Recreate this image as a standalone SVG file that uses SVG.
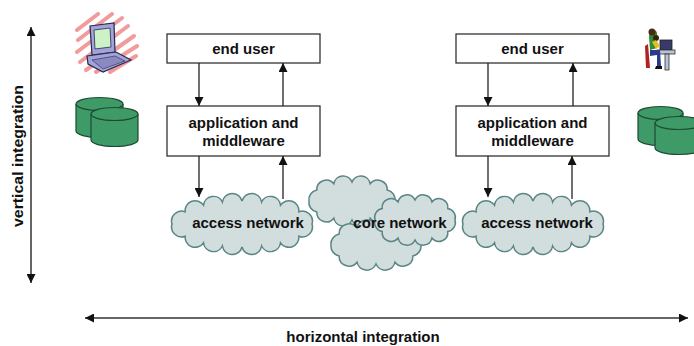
<svg xmlns="http://www.w3.org/2000/svg" width="694" height="346" viewBox="0 0 694 346">
  <style>
    .box { fill: #ffffff; stroke: #333333; stroke-width: 1.3; }
    .lbl { font-family: "Liberation Sans", Arial, sans-serif; font-weight: bold; font-size: 15px; fill: #111111; text-anchor: middle; }
    .cloud { fill: #d2dddd; stroke: #5a8585; stroke-width: 1.5; }
    .link { stroke: #222222; stroke-width: 1.3; fill: none; marker-end: url(#tip); }
    .axis { stroke: #333333; stroke-width: 1.5; fill: none; marker-start: url(#tipS); marker-end: url(#tip); }
    .db { fill: #3e9a66; stroke: #1d4a32; stroke-width: 1.2; }
  </style>
  <defs>
    <marker id="tip" viewBox="0 0 10 10" refX="10" refY="5" markerWidth="9" markerHeight="9" markerUnits="userSpaceOnUse" orient="auto">
      <path d="M0,0 L10,5 L0,10 Z" fill="#111111"/>
    </marker>
    <marker id="tipS" viewBox="0 0 10 10" refX="0" refY="5" markerWidth="9" markerHeight="9" markerUnits="userSpaceOnUse" orient="auto">
      <path d="M10,0 L0,5 L10,10 Z" fill="#111111"/>
    </marker>
  </defs>

  <rect width="694" height="346" fill="#ffffff"/>

  <!-- integration axes -->
  <g id="axes">
    <line class="axis" x1="31" y1="27" x2="31" y2="283"/>
    <text class="lbl" style="font-size:14px" transform="translate(23,156) rotate(-90)" textLength="142" lengthAdjust="spacingAndGlyphs">vertical integration</text>
    <line class="axis" x1="85" y1="318" x2="688" y2="318"/>
    <text class="lbl" x="363" y="342">horizontal integration</text>
  </g>

  <!-- networks -->
  <g id="access-left">
    <path class="cloud" d="M312,224 A10,10 0 0 1 298.8,236.2 A10,10 0 0 1 280.5,242.8 A10,10 0 0 1 261.6,246 A10,10 0 0 1 242,247 A10,10 0 0 1 222.4,246 A10,10 0 0 1 203.5,242.8 A10,10 0 0 1 185.2,236.2 A10,10 0 0 1 172,224 A10,10 0 0 1 185.2,211.8 A10,10 0 0 1 203.5,205.2 A10,10 0 0 1 222.4,202 A10,10 0 0 1 242,201 A10,10 0 0 1 261.6,202 A10,10 0 0 1 280.5,205.2 A10,10 0 0 1 298.8,211.8 A10,10 0 0 1 312,224 Z"/>
    <text class="lbl" x="248" y="228">access network</text>
  </g>
  <g id="core">
    <path class="cloud" d="M395,201 A9.5,9.5 0 0 1 387.2,211.9 A9.5,9.5 0 0 1 370.2,218.2 A9.5,9.5 0 0 1 352,220 A9.5,9.5 0 0 1 333.8,218.2 A9.5,9.5 0 0 1 316.8,211.9 A9.5,9.5 0 0 1 309,201 A9.5,9.5 0 0 1 316.8,190.1 A9.5,9.5 0 0 1 333.8,183.8 A9.5,9.5 0 0 1 352,182 A9.5,9.5 0 0 1 370.2,183.8 A9.5,9.5 0 0 1 387.2,190.1 A9.5,9.5 0 0 1 395,201 Z"/>
    <path class="cloud" d="M421,245 A10,10 0 0 1 412.9,255.9 A10,10 0 0 1 395,262.2 A10,10 0 0 1 376,264 A10,10 0 0 1 357,262.2 A10,10 0 0 1 339.1,255.9 A10,10 0 0 1 331,245 A10,10 0 0 1 339.1,234.1 A10,10 0 0 1 357,227.8 A10,10 0 0 1 376,226 A10,10 0 0 1 395,227.8 A10,10 0 0 1 412.9,234.1 A10,10 0 0 1 421,245 Z"/>
    <path class="cloud" d="M455,220 A9,9 0 0 1 447.8,231.5 A9,9 0 0 1 431.9,238.1 A9,9 0 0 1 415,240 A9,9 0 0 1 398.1,238.1 A9,9 0 0 1 382.2,231.5 A9,9 0 0 1 375,220 A9,9 0 0 1 382.2,208.5 A9,9 0 0 1 398.1,201.9 A9,9 0 0 1 415,200 A9,9 0 0 1 431.9,201.9 A9,9 0 0 1 447.8,208.5 A9,9 0 0 1 455,220 Z"/>
    <text class="lbl" x="400" y="228">core network</text>
  </g>
  <g id="access-right">
    <path class="cloud" d="M603,224 A10,10 0 0 1 589.8,236.2 A10,10 0 0 1 571.5,242.8 A10,10 0 0 1 552.6,246 A10,10 0 0 1 533,247 A10,10 0 0 1 513.4,246 A10,10 0 0 1 494.5,242.8 A10,10 0 0 1 476.2,236.2 A10,10 0 0 1 463,224 A10,10 0 0 1 476.2,211.8 A10,10 0 0 1 494.5,205.2 A10,10 0 0 1 513.4,202 A10,10 0 0 1 533,201 A10,10 0 0 1 552.6,202 A10,10 0 0 1 571.5,205.2 A10,10 0 0 1 589.8,211.8 A10,10 0 0 1 603,224 Z"/>
    <text class="lbl" x="537" y="228">access network</text>
  </g>

  <!-- layer boxes -->
  <g id="user-left">
    <rect class="box" x="167" y="34" width="153" height="29"/>
    <text class="lbl" x="243.5" y="54">end user</text>
  </g>
  <g id="app-left">
    <rect class="box" x="167" y="106" width="153" height="50"/>
    <text class="lbl" x="243.5" y="128">application and</text>
    <text class="lbl" x="243.5" y="146">middleware</text>
  </g>
  <g id="user-right">
    <rect class="box" x="456" y="34" width="153" height="29"/>
    <text class="lbl" x="532.5" y="54">end user</text>
  </g>
  <g id="app-right">
    <rect class="box" x="456" y="106" width="153" height="50"/>
    <text class="lbl" x="532.5" y="128">application and</text>
    <text class="lbl" x="532.5" y="146">middleware</text>
  </g>

  <!-- connectors -->
  <g id="connectors">
    <line class="link" x1="199" y1="63" x2="199" y2="106"/>
    <line class="link" x1="283" y1="106" x2="283" y2="63"/>
    <line class="link" x1="199" y1="156" x2="199" y2="197"/>
    <line class="link" x1="283" y1="199" x2="283" y2="156"/>
    <line class="link" x1="488" y1="63" x2="488" y2="106"/>
    <line class="link" x1="573" y1="106" x2="573" y2="63"/>
    <line class="link" x1="488" y1="156" x2="488" y2="197"/>
    <line class="link" x1="572" y1="199" x2="572" y2="156"/>
  </g>

  <!-- laptop -->
  <g id="laptop">
    <g stroke="#f08a8a" stroke-width="4" stroke-linecap="round" opacity="0.85" fill="none">
      <path d="M78,40 L112,14"/>
      <path d="M77,52 L122,18"/>
      <path d="M80,62 L128,26"/>
      <path d="M86,70 L134,36"/>
      <path d="M96,72 L137,46"/>
      <path d="M110,72 L136,56"/>
      <path d="M77,30 L98,14"/>
    </g>
    <path d="M90,26 L114,23 L115,52 L92,55 Z" fill="#a3a3dc" stroke="#2a2a4a" stroke-width="1.2"/>
    <path d="M94,30 L110,28 L111,47 L95,49 Z" fill="#ccf2c8" stroke="#2a2a4a" stroke-width="0.8"/>
    <path d="M87,56 L116,52 L131,60 L103,72 L88,64 Z" fill="#a3a3dc" stroke="#2a2a4a" stroke-width="1.2"/>
    <path d="M92,60 L115,56 L125,61 L103,69 Z" fill="#8a8ac0" stroke="#2a2a4a" stroke-width="0.6"/>
  </g>

  <!-- storage, left -->
  <g id="storage-left">
    <path class="db" d="M76,104 L76,131 A23.5,6.5 0 0 0 123,131 L123,104"/>
    <ellipse class="db" cx="99.5" cy="104" rx="23.5" ry="6.5"/>
    <path class="db" d="M91,114 L91,140 A23.5,6.5 0 0 0 138,140 L138,114"/>
    <ellipse class="db" cx="114.5" cy="114" rx="23.5" ry="6.5"/>
  </g>

  <!-- person at workstation -->
  <g id="workstation">
    <rect x="660" y="40" width="12" height="10" fill="#3a3a6a" stroke="#222" stroke-width="0.8"/>
    <rect x="657" y="50" width="18" height="4" fill="#b8c4d8" stroke="#333" stroke-width="0.8"/>
    <rect x="665" y="54" width="4" height="16" fill="#b8c4d8" stroke="#333" stroke-width="0.8"/>
    <path d="M645,46 L648,44 L650,68 L646,68 Z" fill="#b22222"/>
    <path d="M649,36 C650,30 656,28 657,33 L657,48 L650,50 Z" fill="#2f8a3a"/>
    <circle cx="652" cy="32" r="3.5" fill="#4a2a10"/>
    <circle cx="656" cy="38" r="3" fill="#3a2008"/>
    <path d="M650,50 L660,50 L661,66 L657,66 L657,55 L650,56 Z" fill="#2a3a8a"/>
    <path d="M652,42 L656,40 L660,46 L656,49 Z" fill="#e0c020"/>
    <path d="M656,66 L662,66 L662,69 L655,69 Z" fill="#111"/>
  </g>

  <!-- storage, right -->
  <g id="storage-right">
    <path class="db" d="M638,113 L638,139 A22.5,6.5 0 0 0 683,139 L683,113"/>
    <ellipse class="db" cx="660.5" cy="113" rx="22.5" ry="6.5"/>
    <path class="db" d="M655,123 L655,148 A24,6.5 0 0 0 703,148 L703,123"/>
    <ellipse class="db" cx="679" cy="123" rx="24" ry="6.5"/>
  </g>
</svg>
